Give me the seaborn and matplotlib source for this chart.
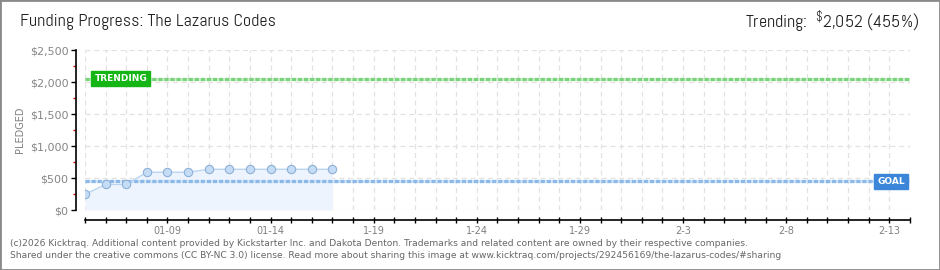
import matplotlib
matplotlib.use('Agg')
import matplotlib.pyplot as plt
import matplotlib.dates as mdates
from matplotlib.ticker import MultipleLocator, FixedLocator, FuncFormatter
from matplotlib.patches import Rectangle
import seaborn as sns
import pandas as pd

# ---- data ----
dates = ["2026-01-05", "2026-01-06", "2026-01-07", "2026-01-08", "2026-01-09",
         "2026-01-10", "2026-01-11", "2026-01-12", "2026-01-13", "2026-01-14",
         "2026-01-15", "2026-01-16", "2026-01-17"]
pledged = [245, 400, 400, 590, 590, 590, 636, 636, 636, 636, 636, 636, 636]
goal_value = 450
trending_value = 2052
trending_pct = 455
x_start = "2026-01-05"
x_end = "2026-02-14"
x_label_dates = ["2026-01-09", "2026-01-14", "2026-01-19", "2026-01-24",
                 "2026-01-29", "2026-02-03", "2026-02-08", "2026-02-13"]
x_label_texts = ["01-09", "01-14", "1-19", "1-24", "1-29", "2-3", "2-8", "2-13"]
y_ticks = [0, 500, 1000, 1500, 2000, 2500]
title = "Funding Progress: The Lazarus Codes"
footer1 = ("(c)2026 Kicktraq. Additional content provided by Kickstarter Inc. and Dakota Denton. "
           "Trademarks and related content are owned by their respective companies.")
footer2 = ("Shared under the creative commons (CC BY-NC 3.0) license. Read more about sharing this "
           "image at www.kicktraq.com/projects/292456169/the-lazarus-codes/#sharing")

sns.set_theme(style='white')
plt.rcParams['font.family'] = ['DejaVu Sans']
plt.rcParams['mathtext.fontset'] = 'custom'
plt.rcParams['mathtext.rm'] = 'Abel'
plt.rcParams['mathtext.it'] = 'Abel'

fig = plt.figure(figsize=(9.4, 2.7), dpi=100)
fig.patch.set_facecolor('white')
ax = fig.add_axes([85 / 940, 60 / 270, 825 / 940, 160 / 270])
ax.set_facecolor('white')

df = pd.DataFrame({'date': pd.to_datetime(dates), 'pledged': pledged})

ax.fill_between(df['date'], df['pledged'], 0, color='#edf4fd', zorder=1, linewidth=0)
sns.lineplot(data=df, x='date', y='pledged', ax=ax, color='#b9d5f2', linewidth=1.0,
             marker='o', markersize=6, markerfacecolor='#c4dcf6',
             markeredgecolor='#8fb0d6', markeredgewidth=0.8, zorder=5)

# goal and trending lines
for val, under, over in [(goal_value, '#d6e7f9', '#8bb9ea'),
                         (trending_value, '#cdefcd', '#7ad27a')]:
    ax.axhline(val, color=under, linewidth=2.3, zorder=3)
    ax.axhline(val, color=over, linewidth=2.3, linestyle=(0, (1.3, 0.6)), zorder=3)

ax.set_xlim(pd.Timestamp(x_start), pd.Timestamp(x_end))
ax.set_ylim(0, 2500)

# x ticks every day, labels only at selected days
ax.xaxis.set_major_locator(mdates.DayLocator())
label_map = {mdates.date2num(pd.Timestamp(d)): t for d, t in zip(x_label_dates, x_label_texts)}
ax.xaxis.set_major_formatter(FuncFormatter(
    lambda v, pos: next((t for k, t in label_map.items() if abs(k - v) < 0.01), '')))

ax.yaxis.set_major_locator(FixedLocator(y_ticks))
ax.yaxis.set_minor_locator(MultipleLocator(250))
ax.yaxis.set_major_formatter(FuncFormatter(lambda v, pos: f"${int(v):,}"))

ax.tick_params(axis='x', which='major', direction='inout', length=5, width=1,
               color='black', labelcolor='#808080', labelsize=7, pad=2, bottom=True)
ax.tick_params(axis='y', which='major', direction='out', length=3.5, width=1,
               color='black', labelcolor='#858585', labelsize=8, pad=2, left=True)
ax.tick_params(axis='y', which='minor', direction='out', length=2.5, width=1,
               color='#e00000', left=True)

ax.grid(True, which='major', axis='both', color='#e2e2e2',
        linestyle=(0, (4, 3)), linewidth=0.9)
ax.set_axisbelow(True)

for s in ['top', 'right']:
    ax.spines[s].set_visible(False)
for s in ['left', 'bottom']:
    ax.spines[s].set_color('black')
    ax.spines[s].set_linewidth(1.2)
ax.spines['left'].set_position(('outward', 6.5))
ax.spines['bottom'].set_position(('outward', 7.2))

ax.set_xlabel('')
ax.set_ylabel('')

# labels on lines
ax.text(pd.Timestamp('2026-01-05 11:00'), trending_value, 'TRENDING', ha='left', va='center',
        color='white', fontsize=6.5, fontweight='bold', zorder=6,
        bbox=dict(boxstyle='square,pad=0.35', fc='#15b515', ec='#15b515'))
ax.text(pd.Timestamp('2026-02-13 18:00'), goal_value, 'GOAL', ha='right', va='center',
        color='white', fontsize=6.5, fontweight='bold', zorder=6,
        bbox=dict(boxstyle='square,pad=0.35', fc='#3b86d8', ec='#3b86d8'))

# texts
head_font = ['Abel', 'DejaVu Sans']
fig.text(20 / 940, 1 - 22 / 270, title, fontsize=13, family=head_font,
         color='#222222', va='center', ha='left')
fig.text(919 / 940, 1 - 21 / 270, r'Trending:  $^{\$}$' + f'{trending_value:,} ({trending_pct}%)',
         fontsize=13, family=head_font,
         color='#222222', va='center', ha='right')
fig.text(20 / 940, 1 - 130 / 270, 'PLEDGED', rotation=90, fontsize=7, color='#808080',
         va='center', ha='center')
fig.text(10 / 940, 1 - 243 / 270, footer1, fontsize=6.6, color='#666666', va='center', ha='left')
fig.text(10 / 940, 1 - 256 / 270, footer2, fontsize=6.6, color='#666666', va='center', ha='left')

fig.patches.append(Rectangle((0, 0), 1, 1, transform=fig.transFigure, fill=False,
                             ec='#8a8a8a', lw=2, zorder=10))

fig.savefig('out.png', dpi=100, facecolor='white')
